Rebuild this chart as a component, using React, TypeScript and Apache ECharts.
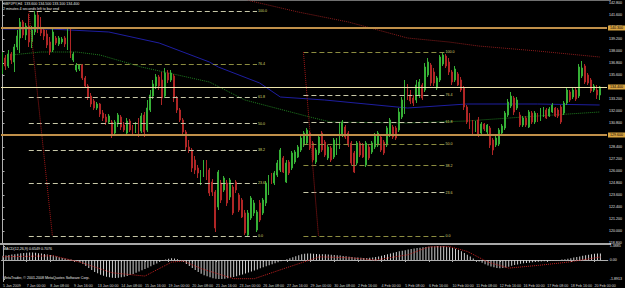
import React, { useEffect, useRef } from "react";
import * as echarts from "echarts";

// ---------- data ----------
const timeLabels = [
  "5 Jan 2009", "7 Jan 00:00", "8 Jan 08:00", "9 Jan 16:00", "13 Jan 00:00", "14 Jan 08:00",
  "15 Jan 16:00", "19 Jan 00:00", "20 Jan 08:00", "21 Jan 16:00", "23 Jan 00:00", "26 Jan 08:00",
  "27 Jan 16:00", "29 Jan 00:00", "30 Jan 08:00", "2 Feb 16:00", "4 Feb 00:00", "5 Feb 08:00",
  "6 Feb 16:00", "10 Feb 00:00", "11 Feb 08:00", "12 Feb 16:00", "16 Feb 00:00", "17 Feb 08:00",
  "18 Feb 16:00", "20 Feb 00:00",
];

const priceTicks = [
  142.8, 141.6, 140.4, 139.2, 138.0, 136.8, 135.6, 134.4, 133.2, 132.0, 130.8,
  129.6, 128.4, 127.2, 126.0, 124.8, 123.6, 122.4, 121.2, 120.0, 118.8,
];

const macdTicks = [1.3885, 0, -1.8913];

// [open, close, low, high]
const candles = [
  [136.1, 137.3, 135.7, 137.9], [137.3, 136.5, 136.1, 137.6], [136.5, 137.7, 136.3, 138.1], [137.7, 137.1, 136.7, 137.9],
  [136.9, 138.4, 135.9, 138.7], [138.4, 139.5, 138.1, 140.1], [139.3, 140.9, 137.8, 141.3], [140.9, 139.6, 139.3, 141.1],
  [139.6, 140.5, 139.1, 140.8], [140.5, 138.9, 138.4, 141.7], [138.9, 140.1, 138.3, 140.5], [139.9, 141.6, 139.6, 142.0],
  [141.6, 140.3, 139.8, 141.9], [140.3, 139.8, 139.5, 141.4], [140.1, 139.5, 139.1, 140.3], [139.7, 138.6, 138.3, 140.1],
  [138.9, 137.9, 137.6, 139.4], [138.1, 139.9, 137.9, 140.2], [139.3, 138.8, 138.6, 139.5], [138.7, 139.3, 138.5, 139.5],
  [138.9, 139.2, 138.7, 139.4], [139.3, 138.7, 138.4, 139.5], [138.5, 140.1, 138.1, 140.3], [140.1, 137.9, 137.3, 140.2],
  [137.1, 137.7, 136.9, 137.9], [136.1, 136.6, 135.9, 136.8], [136.2, 136.6, 136.0, 136.7], [136.6, 135.3, 135.1, 136.7],
  [135.3, 134.5, 134.3, 135.5], [134.5, 133.4, 133.1, 134.7], [133.5, 132.7, 132.4, 133.8], [133.0, 132.3, 132.1, 133.2],
  [132.3, 132.7, 132.1, 132.9], [132.7, 131.7, 131.4, 132.8], [131.8, 131.3, 131.0, 132.1], [131.4, 130.9, 130.6, 131.7],
  [130.9, 131.5, 130.7, 131.7], [130.9, 129.7, 129.3, 131.1], [129.8, 130.9, 129.6, 131.1], [130.7, 131.6, 130.4, 131.8],
  [131.4, 130.4, 130.1, 131.6], [130.6, 130.1, 129.9, 130.9], [129.8, 131.0, 129.5, 131.3], [131.0, 130.1, 129.9, 131.2],
  [130.3, 129.9, 129.7, 130.6], [130.0, 130.7, 129.8, 130.9], [131.1, 129.6, 129.4, 131.3], [130.0, 131.5, 129.8, 131.8],
  [131.6, 129.9, 129.4, 131.9], [130.1, 132.3, 129.9, 133.1], [132.1, 133.6, 131.9, 134.1], [133.5, 134.7, 133.2, 135.1],
  [134.5, 135.4, 134.2, 135.7], [135.4, 134.5, 134.1, 135.6], [135.1, 133.3, 132.6, 135.9], [133.5, 135.8, 133.3, 136.3],
  [135.8, 135.1, 134.8, 136.1], [135.1, 135.8, 134.9, 136.1], [135.5, 133.3, 132.9, 135.7], [133.3, 132.1, 131.8, 133.5],
  [132.1, 131.1, 130.9, 132.3], [131.1, 129.9, 129.7, 131.3], [129.9, 128.4, 128.1, 130.1], [128.4, 128.1, 127.8, 129.1],
  [128.1, 126.3, 125.9, 128.3], [127.1, 126.1, 125.7, 127.5], [126.3, 125.8, 125.3, 126.6], [124.8, 125.9, 124.6, 126.1],
  [125.6, 126.8, 125.4, 127.1], [126.8, 125.3, 125.1, 127.1], [126.1, 123.8, 123.5, 126.3], [124.9, 123.9, 123.5, 125.2],
  [123.9, 120.3, 119.9, 124.1], [122.4, 125.9, 122.1, 126.1], [124.8, 123.1, 122.8, 125.1], [124.1, 125.3, 123.9, 125.5],
  [124.8, 122.8, 122.5, 125.1], [123.4, 125.1, 123.1, 125.3], [124.4, 121.8, 121.6, 124.6], [124.9, 124.1, 123.8, 125.1],
  [123.6, 122.1, 121.9, 123.8], [123.1, 121.4, 121.3, 123.3], [121.8, 119.8, 119.6, 122.1], [119.6, 121.8, 119.4, 122.1],
  [121.3, 123.3, 121.1, 123.5], [121.8, 122.8, 121.5, 123.1], [120.1, 121.9, 119.9, 122.1], [122.8, 121.1, 120.9, 123.1],
  [121.8, 123.1, 121.6, 123.3], [122.8, 124.8, 122.5, 125.0], [123.9, 125.4, 123.6, 125.6], [125.6, 124.9, 124.7, 125.8],
  [124.8, 125.8, 124.6, 126.0], [125.6, 126.8, 125.4, 127.1], [126.1, 128.1, 125.9, 128.3], [127.3, 125.9, 125.8, 127.5],
  [124.9, 126.8, 124.8, 127.1], [126.9, 125.8, 125.6, 127.1], [126.3, 127.8, 126.1, 128.0], [126.9, 127.9, 126.7, 128.1],
  [127.4, 128.4, 127.3, 128.6], [128.1, 129.3, 127.9, 129.5], [128.6, 129.8, 128.4, 130.0], [128.8, 130.1, 128.6, 130.3],
  [129.8, 128.3, 128.1, 130.0], [128.8, 127.1, 126.9, 129.0], [126.9, 128.1, 126.7, 128.3], [127.8, 129.4, 127.6, 129.6],
  [129.8, 128.1, 127.9, 130.0], [128.9, 127.6, 127.4, 129.1], [127.3, 128.4, 127.1, 128.6], [128.3, 127.1, 126.9, 128.5],
  [127.4, 129.1, 127.2, 129.3], [127.8, 129.1, 127.6, 129.3], [128.4, 130.6, 128.2, 130.8], [129.6, 130.9, 129.4, 131.1],
  [130.4, 129.4, 129.2, 130.6], [129.8, 128.6, 128.4, 130.0], [128.8, 126.8, 126.6, 129.0], [127.8, 125.9, 125.8, 128.0],
  [126.8, 128.8, 126.6, 129.0], [128.8, 127.6, 127.4, 129.0], [128.6, 127.4, 127.3, 128.8], [126.6, 128.8, 126.4, 129.0],
  [128.4, 127.3, 127.1, 128.6], [127.9, 128.8, 127.7, 129.0], [128.4, 129.6, 128.2, 129.8], [128.6, 129.8, 128.4, 130.0],
  [129.4, 128.1, 127.9, 129.6], [128.9, 127.8, 127.6, 129.1], [128.6, 130.3, 128.4, 130.5], [129.6, 131.1, 129.4, 131.3],
  [130.4, 129.4, 129.2, 130.6], [130.3, 129.3, 129.1, 130.5], [130.1, 131.9, 129.9, 132.3], [131.4, 133.1, 131.2, 133.4],
  [131.9, 134.5, 131.7, 135.1], [134.5, 133.4, 133.1, 134.7], [133.6, 133.0, 132.7, 134.1], [133.3, 132.8, 132.5, 133.6],
  [133.1, 134.6, 132.8, 135.1], [133.6, 134.9, 133.3, 135.2], [134.6, 133.3, 133.1, 134.8], [134.1, 136.4, 133.9, 136.8],
  [135.6, 136.9, 135.4, 137.3], [136.6, 134.8, 134.5, 136.8], [135.9, 134.8, 134.5, 136.3], [134.3, 135.3, 134.1, 135.5],
  [135.1, 137.4, 134.9, 137.6], [136.7, 137.6, 136.5, 137.9], [137.5, 136.5, 136.3, 137.7], [136.9, 135.9, 135.6, 137.3],
  [135.9, 134.9, 134.6, 136.1], [135.1, 136.2, 134.9, 136.5], [135.7, 134.6, 134.5, 135.9], [135.1, 134.1, 133.9, 135.4],
  [134.3, 132.4, 132.1, 134.5], [132.4, 130.9, 130.7, 132.6], [131.6, 130.4, 130.2, 131.8], [130.9, 129.9, 129.7, 131.1],
  [130.1, 130.8, 129.9, 131.0], [131.1, 129.6, 129.4, 131.4], [129.8, 130.7, 129.6, 130.9], [130.7, 130.2, 130.0, 130.8],
  [129.9, 130.6, 129.7, 130.7], [130.3, 128.6, 128.3, 130.5], [129.1, 128.1, 127.6, 129.3], [128.6, 129.3, 128.4, 129.5],
  [128.7, 130.1, 128.5, 130.3], [129.8, 130.5, 129.6, 130.7], [130.3, 131.8, 130.1, 132.0], [131.6, 132.9, 131.4, 133.2],
  [132.5, 133.5, 132.3, 133.9], [133.3, 131.9, 131.6, 133.5], [132.3, 133.1, 132.1, 133.4], [131.6, 130.6, 130.4, 131.9],
  [130.6, 131.3, 130.4, 131.5], [131.3, 130.6, 130.4, 131.5], [130.4, 131.9, 130.3, 132.1], [131.8, 130.9, 130.7, 132.0],
  [130.9, 131.8, 130.7, 132.0], [131.6, 131.0, 130.9, 131.8], [131.1, 132.1, 131.0, 132.3], [131.5, 132.2, 131.4, 132.4],
  [132.1, 131.3, 131.2, 132.3], [131.5, 132.2, 131.4, 132.4], [131.9, 132.6, 131.8, 132.8], [132.3, 131.5, 131.4, 132.4],
  [132.1, 131.5, 131.3, 132.3], [132.4, 130.9, 130.7, 132.6], [131.8, 132.8, 131.6, 133.0], [132.8, 134.1, 132.6, 134.4],
  [133.9, 133.1, 132.9, 134.1], [133.4, 134.1, 133.2, 134.3], [134.1, 133.2, 133.0, 134.3], [133.5, 136.4, 133.3, 136.7],
  [135.5, 136.3, 135.3, 137.0], [136.5, 134.9, 134.7, 136.7], [135.6, 134.8, 134.6, 135.8], [135.1, 134.0, 133.8, 135.3],
  [134.1, 134.5, 133.9, 134.7], [134.1, 133.6, 133.2, 134.6], [133.6, 134.4, 133.1, 134.5],
];

const macdHist = [
  0.42, 0.45, 0.5, 0.55, 0.58, 0.62, 0.66, 0.7, 0.72, 0.74, 0.74, 0.72, 0.68, 0.64, 0.6, 0.55, 0.5, 0.44,
  0.36, 0.28, 0.2, 0.14, 0.08, 0.04, -0.02, -0.1,
  -0.22, -0.4, -0.6, -0.8, -1.0, -1.18, -1.32, -1.45, -1.56, -1.65, -1.72, -1.76, -1.78, -1.77, -1.72,
  -1.66, -1.58, -1.48, -1.38, -1.27, -1.15, -1.02, -0.9, -0.76, -0.62, -0.48, -0.34, -0.2, -0.08,
  0.04, 0.12, 0.18, 0.16, 0.08, -0.04,
  -0.2, -0.4, -0.6, -0.8, -1.0, -1.2, -1.36, -1.5, -1.62, -1.72, -1.8, -1.86, -1.89, -1.88, -1.85,
  -1.8, -1.74, -1.68, -1.6, -1.52, -1.43, -1.34, -1.24, -1.14, -1.04, -0.93, -0.82, -0.72, -0.62,
  -0.52, -0.42, -0.32, -0.22, -0.12, -0.03,
  0.08, 0.18, 0.28, 0.38, 0.48, 0.56, 0.62, 0.64,
  0.64, 0.62, 0.6, 0.58, 0.57, 0.56, 0.55, 0.53, 0.5, 0.47, 0.44, 0.41, 0.37, 0.33,
  0.3, 0.26, 0.24, 0.22, 0.21, 0.2, 0.22, 0.26, 0.3,
  0.36, 0.42, 0.5, 0.58, 0.64, 0.72, 0.8, 0.86, 0.92, 0.98, 1.04,
  1.09, 1.14, 1.18, 1.22, 1.26, 1.29, 1.32, 1.35, 1.37, 1.3885, 1.38, 1.36, 1.32, 1.27, 1.2, 1.12,
  1.0, 0.86, 0.7, 0.52, 0.34, 0.16, 0.0,
  -0.14, -0.28, -0.42, -0.54, -0.64, -0.72, -0.78, -0.82, -0.8, -0.74, -0.66, -0.58, -0.5,
  -0.44, -0.38, -0.33, -0.3, -0.26, -0.23, -0.2, -0.17, -0.14, -0.11, -0.09, -0.06, -0.04, -0.02, 0.0, 0.04, 0.08,
  0.12, 0.18, 0.24, 0.3, 0.36, 0.42, 0.48, 0.53, 0.58, 0.62, 0.64, 0.65,
];

// [bar index, value]
const macdSignal = [
  [0, 0.32], [17, 0.42], [26, -0.21], [37, -1.27], [48, -1.59], [57, -0.21], [61, -0.1], [67, -0.85],
  [78, -1.85], [85, -1.85], [95, -0.85], [107, 0.32], [118, 0.21], [126, 0.0], [137, 0.53], [144, 1.3],
  [151, 1.33], [157, 0.85], [164, -0.21], [171, -0.8], [181, -0.53], [191, -0.21], [202, 0.3],
];

const maBlue = [
  [0, 140.2], [16, 140.2], [36, 139.9], [53, 138.8], [70, 136.9], [73, 136.4], [87, 134.8], [94, 133.4],
  [109, 133.1], [137, 132.3], [157, 132.7], [181, 132.7], [202, 132.6],
];
const maGreen = [
  [3, 137.6], [13, 137.9], [25, 137.9], [33, 137.6], [47, 136.4], [70, 134.9], [82, 133.1], [104, 131.4],
  [111, 130.9], [137, 130.8], [157, 131.0], [181, 131.5], [202, 131.9],
];
const maRed = [
  [78, 143.6], [84, 143.0], [100, 141.9], [117, 140.9], [137, 139.3], [151, 138.9], [161, 138.5],
  [181, 138.0], [202, 137.4],
];

const fibLevels = [0, 23.6, 38.2, 50.0, 61.8, 76.4, 100.0];
// anchors in bar index / price
const fibLeft = { fromBar: 8.9, toBar: 86.1, low: 119.5, high: 142.0, trendFrom: [8.9, 142.0], trendTo: [16.9, 119.5] };
const fibRight = { fromBar: 101.8, toBar: 149.5, low: 119.5, high: 137.9, trendFrom: [101.8, 137.9], trendTo: [106.9, 119.5] };
const fibLeftColors = ["#c8c8a8", "#c8c8a8", "#c8c8a8", "#c8c8a8", "#c8c8a8", "#8c8c40", "#c8c8a8"];
const fibRightColors = ["#8c8c40", "#c8c8a8", "#8c8c40", "#8c8c40", "#c8c8a8", "#c8c8a8", "#8c8c40"];

const hLines = [
  { price: 140.3, color: "#c0904a", width: 2 },
  { price: 134.4, color: "#ece4ac", width: 1.2 },
  { price: 129.6, color: "#c0904a", width: 2 },
];

const titleLine1 = "GBPJPY,H4  133.600 134.500 133.100 134.400";
const titleLine2 = "2 minutes 4 seconds left to bar end";
const macdTitle = "MACD(12,26,9) 0.6549 0.7076";
const copyright = "MetaTrader, \u00a9 2001-2008 MetaQuotes Software Corp.";

// ---------- chart ----------
const SLOTS = 205;
const FONT = "Liberation Sans";
const FS = 3.6;

function fibMarkLines(f: any, colors: string[]) {
  return fibLevels.map((lv, i) => {
    const p = f.low + ((f.high - f.low) * lv) / 100;
    return [
      {
        coord: [f.fromBar, p],
        lineStyle: { color: colors[i], type: [5, 3], width: 1 },
        label: {
          show: true, position: "end", distance: 1, formatter: lv.toFixed(1),
          color: "#d8d870", fontSize: FS, fontFamily: FONT,
        },
      },
      { coord: [f.toBar, p] },
    ];
  });
}

export default function App() {
  const ref = useRef<HTMLDivElement>(null);
  useEffect(() => {
    document.body.style.margin = "0";
    document.body.style.background = "#000";
    const chart = echarts.init(ref.current!, null, { renderer: "svg" });
    const cats = Array.from({ length: SLOTS }, (_, i) => String(i));
    const axisGray = "#b0b0b0";
    const option: any = {
      animation: false,
      backgroundColor: "#000",
      textStyle: { fontFamily: FONT },
      grid: [
        { left: 1, top: 1, width: 610, height: 242 },
        { left: 1, top: 245.5, width: 610, height: 36 },
      ],
      xAxis: [
        { type: "category", gridIndex: 0, data: cats, boundaryGap: true, axisLine: { show: false }, axisTick: { show: false }, axisLabel: { show: false }, splitLine: { show: false } },
        { type: "value", gridIndex: 0, min: -0.5, max: SLOTS - 0.5, show: false },
        {
          type: "category", gridIndex: 1, data: cats, boundaryGap: true,
          axisLine: { lineStyle: { color: axisGray, width: 1 } },
          axisTick: { show: true, interval: 7, alignWithLabel: true, length: 2, lineStyle: { color: axisGray } },
          axisLabel: {
            interval: 7, align: "left", margin: 2, fontSize: FS, color: "#d0d0d0", fontFamily: FONT,
            formatter: (_v: string, idx: number) => (idx % 8 === 0 && timeLabels[idx / 8]) || "",
          },
          splitLine: { show: false },
        },
        { type: "value", gridIndex: 1, min: -0.5, max: SLOTS - 0.5, show: false },
      ],
      yAxis: [
        {
          type: "value", gridIndex: 0, position: "right", min: 118.8, max: 143.0, scale: true,
          axisLine: { show: true, lineStyle: { color: axisGray } },
          axisTick: { show: true, customValues: priceTicks, length: 2, lineStyle: { color: axisGray } },
          axisLabel: { customValues: priceTicks, margin: 2, fontSize: FS, color: "#e0e0e0", fontFamily: FONT, formatter: (v: number) => v.toFixed(3) },
          splitLine: { show: false },
        },
        {
          type: "value", gridIndex: 1, position: "right", min: -2.13, max: 1.44,
          axisLine: { show: true, lineStyle: { color: axisGray } },
          axisTick: { show: true, customValues: macdTicks, length: 2, lineStyle: { color: axisGray } },
          axisLabel: { customValues: macdTicks, margin: 2, fontSize: FS, color: "#e0e0e0", fontFamily: FONT, formatter: (v: number) => (v === 0 ? "0.00" : v.toFixed(4)) },
          splitLine: { show: false },
        },
      ],
      series: [
        {
          type: "line", xAxisIndex: 1, yAxisIndex: 0, data: maRed, symbol: "none", silent: true,
          lineStyle: { color: "#8a1c1c", width: 1, type: "dotted" }, z: 1,
        },
        {
          type: "line", xAxisIndex: 1, yAxisIndex: 0, data: maBlue, symbol: "none", silent: true,
          lineStyle: { color: "#1e1ea0", width: 1 }, z: 1,
        },
        {
          type: "line", xAxisIndex: 1, yAxisIndex: 0, data: maGreen, symbol: "none", silent: true,
          lineStyle: { color: "#1f7a1f", width: 1, type: "dotted" }, z: 1,
        },
        {
          type: "line", xAxisIndex: 1, yAxisIndex: 0, data: [], symbol: "none", silent: true, z: 2,
          markLine: {
            silent: true, symbol: ["none", "none"],
            data: [
              ...fibMarkLines(fibLeft, fibLeftColors),
              ...fibMarkLines(fibRight, fibRightColors),
              [
                { coord: fibLeft.trendFrom, lineStyle: { color: "#a01818", type: "dotted", width: 1 }, label: { show: false } },
                { coord: fibLeft.trendTo },
              ],
              [
                { coord: fibRight.trendFrom, lineStyle: { color: "#a01818", type: "dotted", width: 1 }, label: { show: false } },
                { coord: fibRight.trendTo },
              ],
            ],
          },
        },
        {
          type: "candlestick", xAxisIndex: 0, yAxisIndex: 0, data: candles, barWidth: 1.4, z: 3,
          itemStyle: { color: "#36b036", color0: "#b02626", borderColor: "#36b036", borderColor0: "#b02626", borderWidth: 1 },
        },
        {
          type: "line", xAxisIndex: 1, yAxisIndex: 0, data: [], symbol: "none", silent: true, z: 4,
          markLine: {
            silent: true, symbol: ["none", "none"],
            data: hLines.map((h) => ({
              yAxis: h.price,
              lineStyle: { color: h.color, width: h.width, type: "solid" },
              label: {
                show: true, position: "end", distance: 1, formatter: h.price.toFixed(3),
                backgroundColor: "#d9a441", color: "#000", fontSize: FS, fontFamily: FONT, padding: [1, 2, 0, 2],
              },
            })),
          },
        },
        {
          type: "bar", xAxisIndex: 2, yAxisIndex: 1, data: macdHist, barWidth: 1,
          itemStyle: { color: "#d0d0d0" }, silent: true,
        },
        {
          type: "line", xAxisIndex: 3, yAxisIndex: 1, data: macdSignal, symbol: "none", silent: true,
          lineStyle: { color: "#c02020", width: 1, type: "dotted" },
        },
      ],
      graphic: [
        { type: "rect", shape: { x: 0, y: 0, width: 611, height: 1 }, style: { fill: "#707070" }, silent: true },
        { type: "rect", shape: { x: 0, y: 243, width: 611, height: 2 }, style: { fill: "#a8a8a8" }, silent: true },
        { type: "text", x: 3, y: 1.5, style: { text: titleLine1, fill: "#e8e8e8", fontSize: FS, fontFamily: FONT } },
        { type: "text", x: 3, y: 6.5, style: { text: titleLine2, fill: "#e8e8e8", fontSize: FS, fontFamily: FONT } },
        { type: "text", x: 3, y: 247, style: { text: macdTitle, fill: "#e8e8e8", fontSize: FS, fontFamily: FONT } },
        { type: "text", x: 3, y: 275.5, style: { text: copyright, fill: "#e8e8e8", fontSize: FS, fontFamily: FONT } },
      ],
    };
    chart.setOption(option);
    return () => chart.dispose();
  }, []);
  return <div ref={ref} style={{ width: 625, height: 288, background: "#000" }} />;
}
